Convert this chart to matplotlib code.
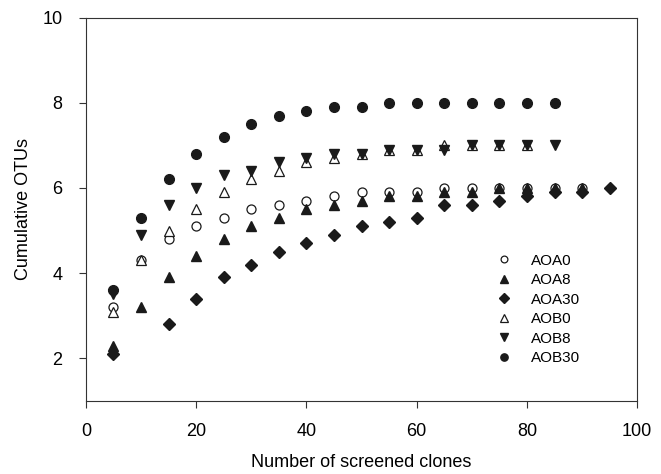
import matplotlib
matplotlib.use("Agg")
import matplotlib.pyplot as plt

plt.rcParams['font.family'] = ['Liberation Sans', 'DejaVu Sans']

# clone counts for each library
x_aoa0 = [5, 10, 15, 20, 25, 30, 35, 40, 45, 50, 55, 60, 65, 70, 75, 80, 85, 90]
aoa0 = [3.2, 4.3, 4.8, 5.1, 5.3, 5.5, 5.6, 5.7, 5.8, 5.9, 5.9, 5.9, 6.0, 6.0, 6.0, 6.0, 6.0, 6.0]

x_aoa8 = [5, 10, 15, 20, 25, 30, 35, 40, 45, 50, 55, 60, 65, 70, 75, 80, 85, 90]
aoa8 = [2.3, 3.2, 3.9, 4.4, 4.8, 5.1, 5.3, 5.5, 5.6, 5.7, 5.8, 5.8, 5.9, 5.9, 6.0, 6.0, 6.0, 6.0]

x_aoa30 = [5, 15, 20, 25, 30, 35, 40, 45, 50, 55, 60, 65, 70, 75, 80, 85, 90, 95]
aoa30 = [2.1, 2.8, 3.4, 3.9, 4.2, 4.5, 4.7, 4.9, 5.1, 5.2, 5.3, 5.6, 5.6, 5.7, 5.8, 5.9, 5.9, 6.0]

x_aob0 = [5, 10, 15, 20, 25, 30, 35, 40, 45, 50, 55, 60, 65, 70, 75, 80]
aob0 = [3.1, 4.3, 5.0, 5.5, 5.9, 6.2, 6.4, 6.6, 6.7, 6.8, 6.9, 6.9, 7.0, 7.0, 7.0, 7.0]

x_aob8 = [5, 10, 15, 20, 25, 30, 35, 40, 45, 50, 55, 60, 65, 70, 75, 80, 85]
aob8 = [3.5, 4.9, 5.6, 6.0, 6.3, 6.4, 6.6, 6.7, 6.8, 6.8, 6.9, 6.9, 6.9, 7.0, 7.0, 7.0, 7.0]

x_aob30 = [5, 10, 15, 20, 25, 30, 35, 40, 45, 50, 55, 60, 65, 70, 75, 80, 85]
aob30 = [3.6, 5.3, 6.2, 6.8, 7.2, 7.5, 7.7, 7.8, 7.9, 7.9, 8.0, 8.0, 8.0, 8.0, 8.0, 8.0, 8.0]

ink = '#1a1a1a'

fig = plt.figure(figsize=(6.61, 4.74), dpi=100)
ax = fig.add_axes([0.130, 0.154, 0.834, 0.809])

ax.plot(x_aoa0, aoa0, 'o', ms=6.5, mfc='white', mec=ink, mew=0.9, label='AOA0', ls='none')
ax.plot(x_aoa8, aoa8, '^', ms=7, mfc=ink, mec=ink, label='AOA8', ls='none')
ax.plot(x_aoa30, aoa30, 'D', ms=6.2, mfc=ink, mec=ink, label='AOA30', ls='none')
ax.plot(x_aob0, aob0, '^', ms=7, mfc='white', mec=ink, mew=0.9, label='AOB0', ls='none')
ax.plot(x_aob8, aob8, 'v', ms=7, mfc=ink, mec=ink, label='AOB8', ls='none')
ax.plot(x_aob30, aob30, 'o', ms=7, mfc=ink, mec=ink, label='AOB30', ls='none')

ax.set_xlim(0, 100)
ax.set_ylim(1, 10)
ax.set_xticks([0, 20, 40, 60, 80, 100])
ax.set_yticks([2, 4, 6, 8, 10])
ax.tick_params(direction='out', length=5, width=0.8, labelsize=13, colors='#333333',
               labelcolor='black')
ax.tick_params(axis='x', pad=11)
ax.tick_params(axis='y', pad=12)
for s in ax.spines.values():
    s.set_linewidth(0.8)
    s.set_color('#333333')

ax.set_xlabel('Number of screened clones', fontsize=13, labelpad=10)
ax.set_ylabel('Cumulative OTUs', fontsize=13, labelpad=7)

ax.legend(loc='upper left', bbox_to_anchor=(0.733, 0.40), frameon=False,
          fontsize=11, markerscale=0.75, handlelength=1.0, handletextpad=1.3,
          labelspacing=0.36, borderaxespad=0)

fig.savefig('out.png', dpi=100)
